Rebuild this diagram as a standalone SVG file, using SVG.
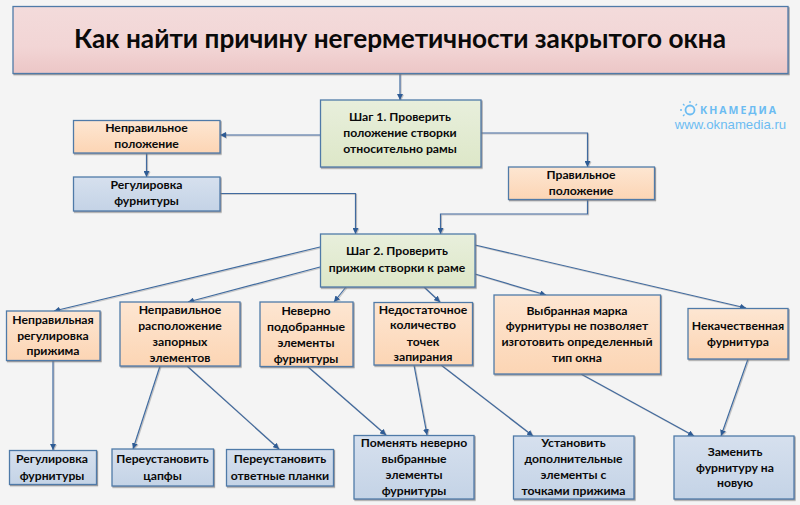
<svg xmlns="http://www.w3.org/2000/svg" width="800" height="505" viewBox="0 0 800 505">
<style>
text{font-family:"Lato","Noto Sans",sans-serif;font-weight:700;font-size:12.2px;fill:#0a0a0a;text-anchor:middle}
.box{stroke:#4f7aa8;stroke-width:1.3;filter:url(#sh)}
.red{fill:url(#gr)}.grn{fill:url(#gg)}.org{fill:url(#go)}.blu{fill:url(#gb)}
#connectors{filter:url(#ls)}
#connectors path{fill:none;stroke:#3f6b9f;stroke-width:1.2;marker-end:url(#arr)}
#logo text{fill:#6cbcf2}
</style>
<defs>
<filter id="sh" x="-5%" y="-5%" width="110%" height="115%"><feDropShadow dx="1" dy="1.2" stdDeviation="0.7" flood-color="#777" flood-opacity="0.7"/></filter>
<filter id="ls" x="0" y="0" width="100%" height="100%" filterUnits="userSpaceOnUse"><feDropShadow dx="1" dy="0.8" stdDeviation="0.4" flood-color="#888" flood-opacity="0.5"/></filter>
<linearGradient id="gr" x1="0" y1="0" x2="0" y2="1"><stop offset="0" stop-color="#f3dbdb"/><stop offset="0.6" stop-color="#f2d5d5"/><stop offset="1" stop-color="#ecc6c6"/></linearGradient>
<linearGradient id="gg" x1="0" y1="0" x2="0" y2="1"><stop offset="0" stop-color="#e8efdc"/><stop offset="1" stop-color="#dde7c8"/></linearGradient>
<linearGradient id="go" x1="0" y1="0" x2="0" y2="1"><stop offset="0" stop-color="#fde6d2"/><stop offset="1" stop-color="#fcd5b4"/></linearGradient>
<linearGradient id="gb" x1="0" y1="0" x2="0" y2="1"><stop offset="0" stop-color="#d6e0ee"/><stop offset="1" stop-color="#c4d3e6"/></linearGradient>
<marker id="arr" markerUnits="userSpaceOnUse" markerWidth="7" markerHeight="6" refX="6" refY="3" orient="auto"><path d="M0,0L6,3L0,6Z" fill="#2f5c95"/></marker>
</defs>
<rect width="800" height="505" fill="#f4f4f4"/>
<g id="connectors">
<path d="M400,73V100"/>
<path d="M320,135H220"/>
<path d="M146.500,153V177"/>
<path d="M220,193.500H355.500V234"/>
<path d="M481,133H587.500V167"/>
<path d="M587.500,199.500V214H440.500V234"/>
<path d="M320,247L54,311"/>
<path d="M320,267L188,302"/>
<path d="M346,287L334,302"/>
<path d="M424,287L440,302"/>
<path d="M475,274L546,295"/>
<path d="M475,245L746,308"/>
<path d="M53,360V450"/>
<path d="M160,366L133,449"/>
<path d="M187,366L279,449"/>
<path d="M307,366L386,435"/>
<path d="M414,365L427,435"/>
<path d="M441,365L533,436"/>
<path d="M581,374L694,436"/>
<path d="M748,359L721,436"/>
</g>
<g id="title"><rect class="box red" x="13" y="6.500" width="775" height="67"/><text x="400" y="48" style="font-size:26.200px">Как найти причину негерметичности закрытого окна</text></g>
<g id="step1"><rect class="box grn" x="320.500" y="100" width="160.500" height="67"/><text x="400" y="121">Шаг 1. Проверить</text><text x="400" y="137">положение створки</text><text x="400" y="153">относительно рамы</text></g>
<g id="wrong-pos"><rect class="box org" x="73.500" y="120.500" width="146.500" height="32.500"/><text x="146.500" y="132">Неправильное</text><text x="146.500" y="148">положение</text></g>
<g id="adjust"><rect class="box blu" x="73.500" y="177" width="146.500" height="34"/><text x="146.500" y="189">Регулировка</text><text x="146.500" y="205">фурнитуры</text></g>
<g id="right-pos"><rect class="box org" x="508.500" y="167" width="146" height="32.500"/><text x="581" y="179">Правильное</text><text x="581" y="195">положение</text></g>
<g id="step2"><rect class="box grn" x="320.500" y="234" width="154.500" height="53"/><text x="397" y="255">Шаг 2. Проверить</text><text x="397" y="272">прижим створки к раме</text></g>
<g id="n1"><rect class="box org" x="6.500" y="311" width="93.500" height="49.500"/><text x="53" y="324">Неправильная</text><text x="53" y="340">регулировка</text><text x="53" y="355">прижима</text></g>
<g id="n2"><rect class="box org" x="120" y="302" width="120" height="64"/><text x="180" y="314">Неправильное</text><text x="180" y="330">расположение</text><text x="180" y="346">запорных</text><text x="180" y="362">элементов</text></g>
<g id="n3"><rect class="box org" x="260" y="302" width="93" height="64.500"/><text x="306" y="315">Неверно</text><text x="306" y="331">подобранные</text><text x="306" y="347">элементы</text><text x="306" y="363">фурнитуры</text></g>
<g id="n4"><rect class="box org" x="374" y="302.500" width="98.500" height="62.500"/><text x="423" y="314">Недостаточное</text><text x="423" y="329">количество</text><text x="423" y="346">точек</text><text x="423" y="361">запирания</text></g>
<g id="n5"><rect class="box org" x="494" y="295" width="166.500" height="79"/><text x="577" y="315">Выбранная марка</text><text x="577" y="330">фурнитуры не позволяет</text><text x="577" y="346">изготовить определенный</text><text x="577" y="362">тип окна</text></g>
<g id="n6"><rect class="box org" x="688" y="308.500" width="100" height="50.500"/><text x="738" y="330">Некачественная</text><text x="738" y="346">фурнитура</text></g>
<g id="a1"><rect class="box blu" x="9.500" y="450.500" width="87" height="34"/><text x="52" y="463">Регулировка</text><text x="52" y="480">фурнитуры</text></g>
<g id="a2"><rect class="box blu" x="112" y="449" width="101.500" height="37"/><text x="162.500" y="463">Переустановить</text><text x="162.500" y="480">цапфы</text></g>
<g id="a3"><rect class="box blu" x="226.500" y="449.500" width="107" height="36.500"/><text x="280" y="463">Переустановить</text><text x="280" y="480">ответные планки</text></g>
<g id="a4"><rect class="box blu" x="354" y="435.500" width="120" height="63.500"/><text x="414" y="447">Поменять неверно</text><text x="414" y="463">выбранные</text><text x="414" y="479">элементы</text><text x="414" y="495">фурнитуры</text></g>
<g id="a5"><rect class="box blu" x="513.500" y="436" width="120.500" height="63"/><text x="573.500" y="447">Установить</text><text x="573.500" y="463">дополнительные</text><text x="573.500" y="479">элементы с</text><text x="573.500" y="495">точками прижима</text></g>
<g id="a6"><rect class="box blu" x="674" y="436" width="120" height="63"/><text x="735" y="456">Заменить</text><text x="735" y="472">фурнитуру на</text><text x="735" y="487">новую</text></g>
<g id="logo">
<circle cx="690" cy="110" r="4.500" fill="none" stroke="#6cbcf2" stroke-width="1.800"/>
<path d="M690,101v2M683,104l1.500,1.500M680,110h2M683,116l1.500,-1.500M697,104l-1.500,1.500" stroke="#6cbcf2" stroke-width="1.300" fill="none"/>
<text x="739" y="114" style="font-size:10.500px;letter-spacing:2px;font-family:'Noto Sans',sans-serif">КНАМЕДИА</text>
<text x="730.500" y="129" style="font-size:13.200px;font-weight:400;font-family:'Liberation Sans',sans-serif">www.oknamedia.ru</text>
</g>
</svg>
